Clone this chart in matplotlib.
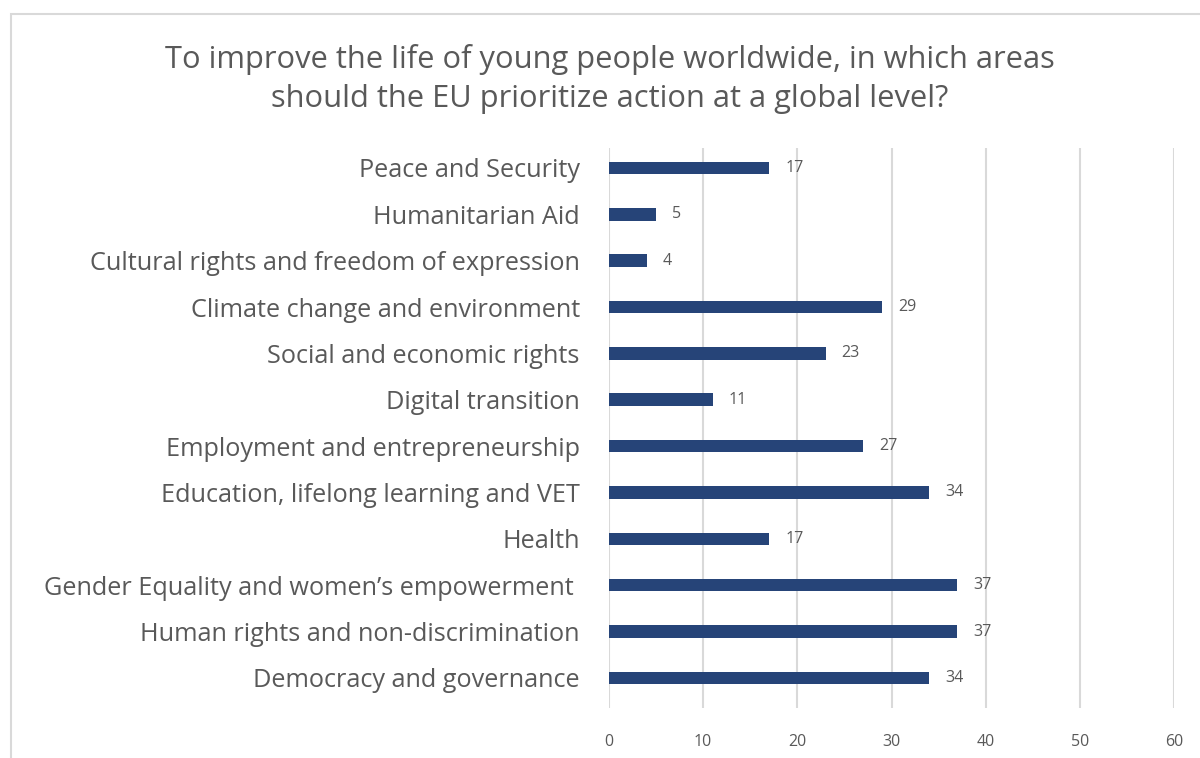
import matplotlib
matplotlib.use("Agg")
import matplotlib.pyplot as plt
from matplotlib.patches import Rectangle
import numpy as np

plt.rcParams['font.family'] = ['Open Sans', 'DejaVu Sans']

title = ("To improve the life of young people worldwide, in which areas\n"
         "should the EU prioritize action at a global level?")

categories = [
    "Peace and Security",
    "Humanitarian Aid",
    "Cultural rights and freedom of expression",
    "Climate change and environment",
    "Social and economic rights",
    "Digital transition",
    "Employment and entrepreneurship",
    "Education, lifelong learning and VET",
    "Health",
    "Gender Equality and women\u2019s empowerment ",
    "Human rights and non-discrimination",
    "Democracy and governance",
]
values = [17, 5, 4, 29, 23, 11, 27, 34, 17, 37, 37, 34]
x_ticks = [0, 10, 20, 30, 40, 50, 60]

text_color = "#595959"
bar_color = "#264478"
grid_color = "#d9d9d9"

fig = plt.figure(figsize=(12, 7.58), dpi=100)
W, H = 1200, 758

# light frame around the chart area
fig.patches.append(Rectangle((11 / W, -0.05), 1.2, 1 - 14 / H + 0.05,
                             transform=fig.transFigure, fill=False,
                             edgecolor="#d9d9d9", linewidth=1.5))

ax = fig.add_axes([609 / W, 1 - 708 / H, (1174 - 609) / W, (708 - 148) / H])

y = np.arange(len(categories))
ax.barh(y, values, height=0.27, color=bar_color, zorder=3)

ax.set_xlim(0, 60)
ax.set_ylim(len(categories) - 1 + 0.65, -0.43)
ax.set_xticks(x_ticks)
ax.set_xticklabels([str(t) for t in x_ticks])
ax.set_yticks(y)
ax.set_yticklabels(categories)

ax.tick_params(axis='x', length=0, pad=19, labelsize=11.5, labelcolor=text_color)
ax.tick_params(axis='y', length=0, pad=21, labelsize=18.2, labelcolor=text_color)

ax.grid(axis='x', color=grid_color, linewidth=1.5, zorder=0)
for s in ax.spines.values():
    s.set_visible(False)

for yi, v in zip(y, values):
    ax.annotate(str(v), xy=(v, yi), xytext=(11.5, 0), textcoords='offset points',
                ha='left', va='center', fontsize=11.5, color=text_color)

fig.text(610 / W, 1 - 79 / H, title, ha='center', va='center',
         fontsize=22.2, color=text_color, linespacing=1.42)

fig.savefig("out.png", dpi=100)
